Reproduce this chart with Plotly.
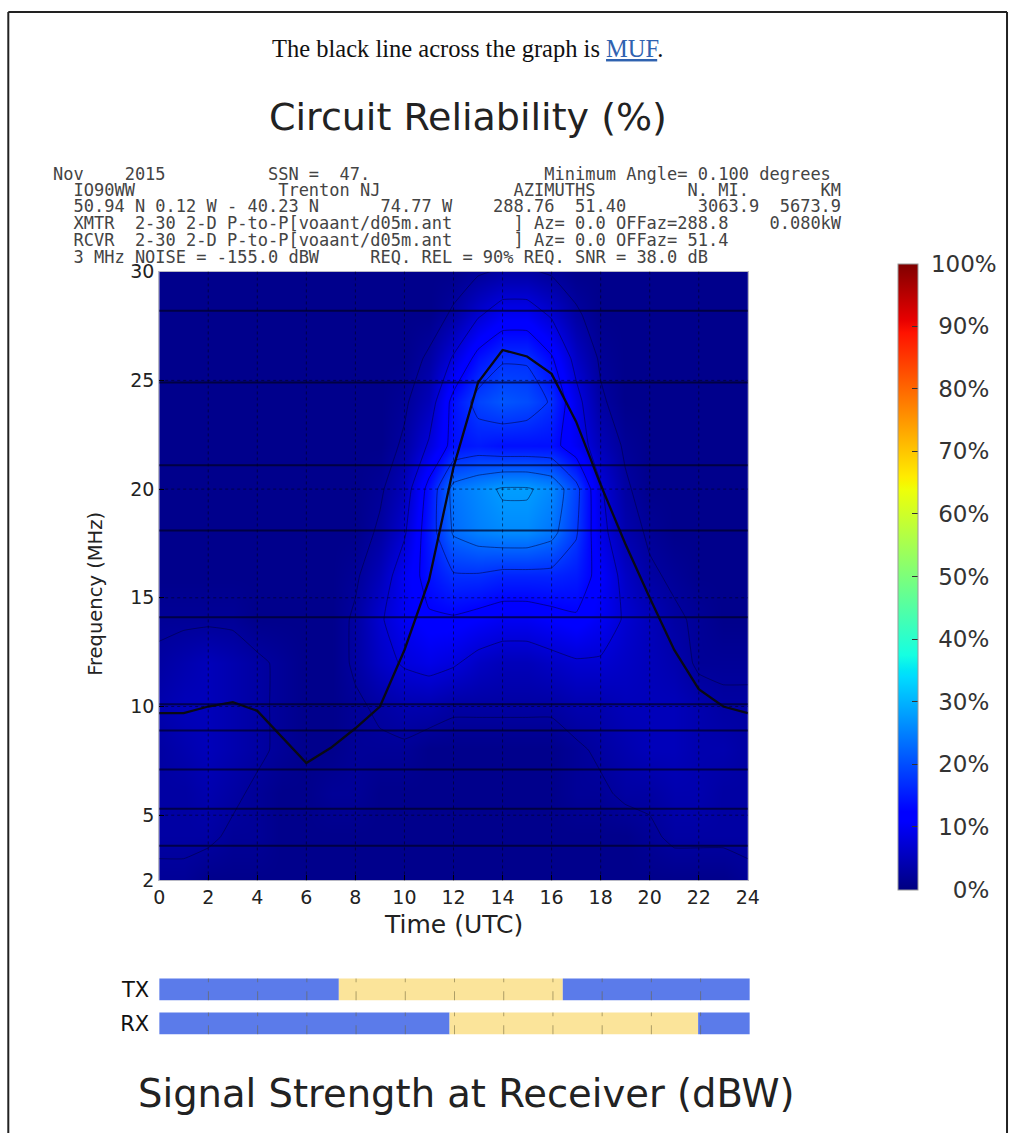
import numpy as np
import plotly.graph_objects as go

# ---------------- data ----------------
hours = list(range(25))
freqs = [2, 4, 6, 8, 10, 12, 14, 16, 18, 20, 22, 24, 26, 28, 30]
# circuit reliability (%) rows by frequency, columns by hour 0..24
rel = [
    [2, 2, 1, 1, 1, 1, 1, 1, 1, 1, 1, 1, 1, 1, 1, 1, 1, 1, 1, 1, 1, 1, 1, 1, 2],
    [3, 3, 3, 2, 2, 1, 1, 1, 1, 1, 1, 1, 1, 1, 1, 1, 1, 1, 1, 1, 2, 3, 3, 3, 3],
    [3, 3, 4, 3, 2, 1, 1, 2, 2, 1, 1, 1, 1, 1, 1, 1, 1, 2, 2, 3, 3, 4, 4, 3, 3],
    [3, 4, 5, 4, 3, 2, 1, 1, 2, 2, 2, 1, 1, 1, 1, 1, 1, 2, 3, 4, 5, 5, 4, 4, 3],
    [4, 5, 5, 4, 3, 2, 1, 1, 2, 3, 4, 4, 3, 3, 3, 3, 3, 4, 4, 5, 5, 5, 4, 3, 3],
    [3, 4, 5, 4, 3, 2, 1, 1, 3, 6, 8, 9, 8, 6, 5, 5, 6, 7, 7, 6, 5, 4, 2, 2, 2],
    [2, 2, 2, 2, 1, 1, 1, 1, 3, 7, 10, 12, 12, 11, 10, 10, 11, 12, 10, 7, 5, 3, 2, 1, 1],
    [1, 1, 1, 1, 1, 1, 1, 1, 2, 5, 10, 14, 17, 17, 16, 16, 16, 15, 11, 6, 3, 2, 1, 1, 1],
    [1, 1, 1, 1, 1, 1, 1, 1, 1, 3, 7, 15, 23, 25, 26, 26, 24, 18, 9, 4, 2, 1, 1, 1, 1],
    [1, 1, 1, 1, 1, 1, 1, 1, 1, 2, 5, 14, 24, 26, 28, 28, 26, 19, 8, 3, 1, 1, 1, 1, 1],
    [1, 1, 1, 1, 1, 1, 1, 1, 1, 1, 3, 8, 14, 15, 14, 14, 14, 10, 5, 2, 1, 1, 1, 1, 1],
    [1, 1, 1, 1, 1, 1, 1, 1, 1, 1, 2, 5, 14, 19, 21, 20, 17, 9, 3, 1, 1, 1, 1, 1, 1],
    [1, 1, 1, 1, 1, 1, 1, 1, 1, 1, 1, 3, 8, 14, 17, 17, 13, 6, 2, 1, 1, 1, 1, 1, 1],
    [1, 1, 1, 1, 1, 1, 1, 1, 1, 1, 1, 1, 3, 7, 10, 10, 7, 3, 1, 1, 1, 1, 1, 1, 1],
    [1, 1, 1, 1, 1, 1, 1, 1, 1, 1, 1, 1, 1, 2, 3, 3, 2, 1, 1, 1, 1, 1, 1, 1, 1],
]
# maximum usable frequency (MHz) per hour
muf = [9.7, 9.7, 10.0, 10.2, 9.8, 8.6, 7.4, 8.1, 9.0, 10.0, 12.6, 15.8, 21.0,
       24.9, 26.4, 26.1, 25.3, 23.1, 20.2, 17.5, 15.0, 12.6, 10.8, 10.0, 9.7]
band_freqs = [3.6, 5.3, 7.1, 8.9, 10.1, 14.1, 18.1, 21.1, 24.9, 28.2]
x_ticks = list(range(0, 25, 2))
y_ticks = [2, 5, 10, 15, 20, 25, 30]
cbar_vals = list(range(0, 101, 10))
# daylight windows (UTC hours) at transmitter / receiver
tx_day = [7.3, 16.4]
rx_day = [11.8, 21.9]

header_lines = [
    "Nov    2015          SSN =  47.                 Minimum Angle= 0.100 degrees",
    "  IO90WW              Trenton NJ             AZIMUTHS         N. MI.       KM",
    "  50.94 N 0.12 W - 40.23 N      74.77 W    288.76  51.40       3063.9  5673.9",
    "  XMTR  2-30 2-D P-to-P[voaant/d05m.ant      ] Az= 0.0 OFFaz=288.8    0.080kW",
    "  RCVR  2-30 2-D P-to-P[voaant/d05m.ant      ] Az= 0.0 OFFaz= 51.4",
    "  3 MHz NOISE = -155.0 dBW     REQ. REL = 90% REQ. SNR = 38.0 dB",
]
header_y = [173, 189, 205, 222, 239, 256]

# ---------------- helpers (reference pixel -> paper) ----------------
FW, FH = 1020, 1133
SX, OX = 0.983, 5.7
SY, OY = 0.981, 10.2
def px(x):
    return ((x - OX) / SX) / FW
def py(y):
    return 1 - ((y - OY) / SY) / FH

# matplotlib jet colormap
seg_r = [(0, 0), (0.35, 0), (0.66, 1), (0.89, 1), (1, 0.5)]
seg_g = [(0, 0), (0.125, 0), (0.375, 1), (0.64, 1), (0.91, 0), (1, 0)]
seg_b = [(0, 0.5), (0.11, 1), (0.34, 1), (0.65, 0), (1, 0)]
stops = sorted(set([p for s in (seg_r, seg_g, seg_b) for p, _ in s]))
def chan(seg, t):
    return float(np.interp(t, [p for p, _ in seg], [v for _, v in seg]))
jet = [[t, "rgb(%d,%d,%d)" % (round(255 * chan(seg_r, t)), round(255 * chan(seg_g, t)),
                              round(255 * chan(seg_b, t)))] for t in stops]

fig = go.Figure()

fig.add_trace(go.Heatmap(
    x=hours, y=freqs, z=rel, zmin=0, zmax=100, colorscale=jet, zsmooth="best",
    hoverinfo="skip",
    colorbar=dict(
        x=px(898), xanchor="left", y=py(576), yanchor="middle",
        len=614 / SY, lenmode="pixels", thickness=20 / SX, thicknessmode="pixels",
        xpad=0, ypad=0, outlinecolor="#9a9a9a", outlinewidth=1,
        tickvals=cbar_vals,
        ticktext=[("\u00a0" * (1 if v == 100 else (4 if v == 0 else 2))) + f"{v}%" for v in cbar_vals],
        ticks="inside", ticklen=6, tickcolor="#333",
        tickfont=dict(family="DejaVu Sans", size=23, color="#333"),
    ),
))
fig.add_trace(go.Contour(
    x=hours, y=freqs, z=rel, showscale=False, hoverinfo="skip",
    contours=dict(coloring="lines", start=2.5, end=30, size=5),
    colorscale=[[0, "rgba(0,0,50,0.5)"], [1, "rgba(0,0,50,0.5)"]],
    line=dict(width=1, smoothing=0.3),
))
fig.add_trace(go.Scatter(x=hours, y=muf, mode="lines",
                         line=dict(color="#0a0a14", width=2.3), hoverinfo="skip"))

# TX / RX daylight bars
blue, yellow = "#5b7bea", "#fbe49a"
for yv, day in ((1, tx_day), (0, rx_day)):
    fig.add_trace(go.Bar(orientation="h", y=[yv, yv, yv], base=[0, day[0], day[1]],
                         x=[day[0] - 0, day[1] - day[0], 24 - day[1]],
                         marker=dict(color=[blue, yellow, blue], line=dict(width=0)),
                         width=0.64, xaxis="x2", yaxis="y2", hoverinfo="skip"))
    gx, gy = [], []
    for t in x_ticks[1:-1]:
        gx += [t, t, None]
        gy += [yv - 0.32, yv + 0.32, None]
    fig.add_trace(go.Scatter(x=gx, y=gy, mode="lines", xaxis="x2", yaxis="y2",
                             line=dict(color="rgba(110,100,60,0.55)", width=1, dash="dash"),
                             hoverinfo="skip"))

shapes = []
for f in band_freqs:
    shapes.append(dict(type="line", xref="x", yref="y", x0=hours[0], x1=hours[-1], y0=f, y1=f,
                       line=dict(color="rgba(0,0,35,0.7)", width=2), layer="above"))
for t in x_ticks[1:-1]:
    shapes.append(dict(type="line", xref="x", yref="y domain", x0=t, x1=t, y0=0, y1=1,
                       line=dict(color="rgba(0,0,20,0.55)", width=1, dash="dot"), layer="above"))
for f in y_ticks[1:-1]:
    shapes.append(dict(type="line", xref="x domain", yref="y", x0=0, x1=1, y0=f, y1=f,
                       line=dict(color="rgba(0,0,20,0.55)", width=1, dash="dot"), layer="above"))
# page border (left, top, right)
bl, br = px(8), min(px(1012), 1 - 1.0 / FW)
bt = 1 - 1.0 / FH
for x0, y0, x1, y1 in ((bl, bt, br, bt), (bl, bt, bl, -0.1), (br, bt, br, -0.1)):
    shapes.append(dict(type="line", xref="paper", yref="paper", x0=x0, y0=y0, x1=x1, y1=y1,
                       line=dict(color="#222", width=2)))

def text(x, y, s, size, family="DejaVu Sans", color="#222", xanchor="center", angle=0):
    return dict(x=px(x), y=py(y), xref="paper", yref="paper", text=s, showarrow=False,
                xanchor=xanchor, yanchor="middle", textangle=angle, borderpad=0,
                font=dict(family=family, size=size, color=color))

ann = []
for yy, line in zip(header_y, header_lines):
    ann.append(text(52, yy, line.replace(" ", "\u00a0"), 17, family="DejaVu Sans Mono",
                    color="#444", xanchor="left"))
ann.append(text(468, 48,
                "The black line across the graph is <a href='https://en.wikipedia.org/wiki/Maximum_usable_frequency' "
                "style='color:#2f62b0;text-decoration:underline'>MUF</a>.",
                24.5, family="Liberation Serif", color="#111"))
ann.append(text(468, 116, "Circuit Reliability (%)", 38))
ann.append(text(467, 1093, "Signal Strength at Receiver (dBW)", 38.5))
ann.append(text(453, 924, "Time (UTC)", 25))
ann.append(text(95, 593, "Frequency (MHz)", 19.5, angle=-90))

tickfont = dict(family="DejaVu Sans", size=19, color="#222")
fig.update_layout(
    width=FW, height=FH, margin=dict(l=0, r=0, t=0, b=0, pad=0),
    paper_bgcolor="white", plot_bgcolor="white", showlegend=False,
    xaxis=dict(domain=[px(159), px(748)], range=[0, 24], tickvals=x_ticks,
               ticks="inside", ticklen=5, tickcolor="#000", showgrid=False, zeroline=False,
               showline=True, linecolor="#b8b8c4", mirror=True, tickfont=tickfont),
    yaxis=dict(domain=[py(880), py(271)], range=[2, 30], tickvals=y_ticks,
               ticks="inside", ticklen=5, tickcolor="#000", showgrid=False, zeroline=False,
               showline=True, linecolor="#b8b8c4", mirror=True, tickfont=tickfont),
    xaxis2=dict(domain=[px(159), px(750)], range=[0, 24], anchor="y2",
                showticklabels=False, showgrid=False, zeroline=False, ticks=""),
    yaxis2=dict(domain=[py(1040), py(972)], range=[-0.5, 1.5], anchor="x2",
                tickvals=[0, 1], ticktext=["RX", "TX"], ticks="", showgrid=False,
                ticklabelstandoff=9,
                zeroline=False, tickfont=dict(family="DejaVu Sans", size=21, color="#111")),
    barmode="overlay",
    shapes=shapes, annotations=ann,
)

fig.write_html("out.html")
